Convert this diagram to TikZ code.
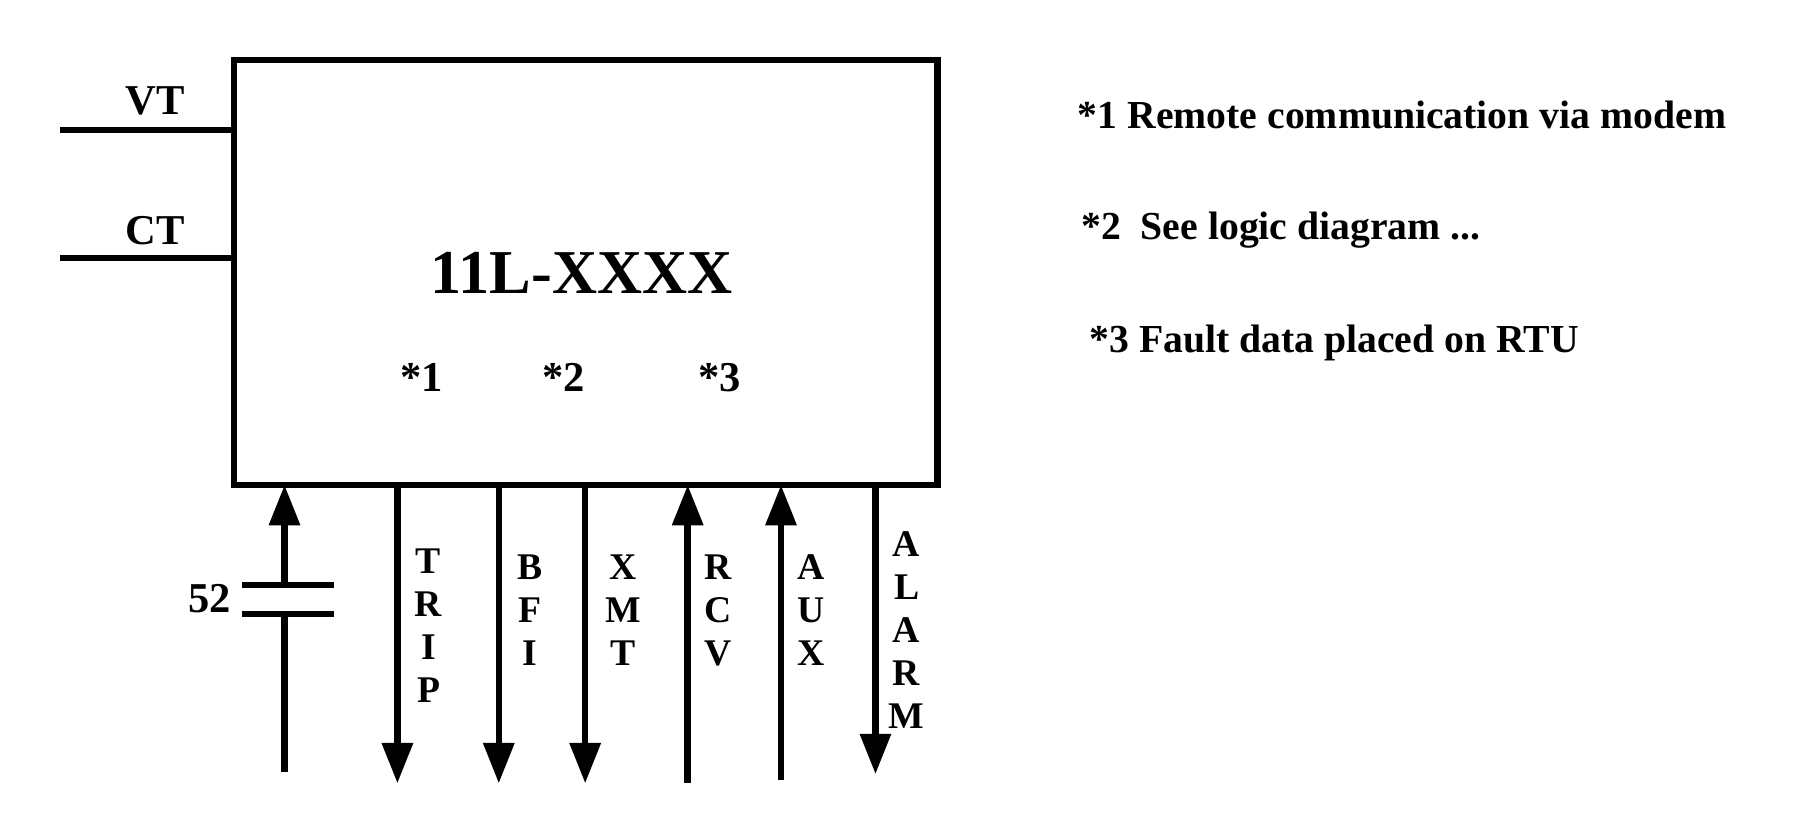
\documentclass[tikz,border=0pt]{standalone}
\usepackage{fontspec}
\setmainfont{Liberation Serif}
\usetikzlibrary{arrows.meta}
\tikzset{wire/.style={line width=1.6pt}}
\tikzset{sig/.style={line width=1.6pt,-{Triangle[length=0.35cm,width=0.26cm]}}}
\tikzset{vlabel/.style={font=\bfseries\fontsize{9.3}{10.6}\selectfont,align=center,anchor=north}}
\tikzset{note/.style={font=\bfseries\fontsize{9.8}{12}\selectfont,anchor=west,inner sep=0pt}}
\tikzset{tag/.style={font=\bfseries\fontsize{10.5}{12}\selectfont}}
\begin{document}
\begin{tikzpicture}[x=0.01cm,y=-0.01cm]
        \useasboundingbox (0,0) rectangle (1560,726);
        % relay box
        \draw[wire] (203,52) rectangle (814,421);
        \node[font=\bfseries\fontsize{15.4}{18}\selectfont] (name) at (505,237) {11L-XXXX};
        \node[tag] (s1) at (366,328) {*1};
        \node[tag] (s2) at (489,328) {*2};
        \node[tag] (s3) at (625,328) {*3};
        % inputs
        \coordinate (vtA) at (52,113); \coordinate (vtB) at (203,113);
        \coordinate (ctA) at (52,224); \coordinate (ctB) at (203,224);
        \draw[wire] (vtA) -- (vtB);
        \draw[wire] (ctA) -- (ctB);
        \node[tag] (vt) at (135,88) {VT};
        \node[tag] (ct) at (135,200) {CT};
        % 52 contact
        \coordinate (c52top) at (247,421); \coordinate (p1) at (247,508);
        \coordinate (p2) at (247,533); \coordinate (c52bot) at (247,670);
        \draw[sig] (p1) -- (c52top);
        \draw[wire] (p2) -- (c52bot);
        \draw[wire] (210,508) -- (290,508);
        \draw[wire] (210,533) -- (290,533);
        \node[tag] (n52) at (182,520) {52};
        % outputs
        \foreach \x/\e/\lx/\ly/\txt in {345/680/372/462/{T\\R\\I\\P}, 433/680/460/467/{B\\F\\I}, 508/680/541/467/{X\\M\\T}}
            \draw[sig] (\x,421) -- (\x,\e) node[vlabel] at (\lx,\ly) {\txt};
        \draw[sig] (760,421) -- (760,672) node[vlabel] at (787,447) {A\\L\\A\\R\\M};
        % inputs from below
        \foreach \x/\e/\txt in {597/680/{R\\C\\V}, 678/677/{A\\U\\X}}
            \draw[sig] (\x,\e) -- (\x,421) node[vlabel] at (\x+26,467) {\txt};
        % notes
        \node[note] (note1) at (935,100) {*1 Remote communication via modem};
        \node[note] (note2) at (938,200) {*2\ \ See logic diagram ...};
        \node[note] (note3) at (945,298) {*3 Fault data placed on RTU};
\end{tikzpicture}
\end{document}
